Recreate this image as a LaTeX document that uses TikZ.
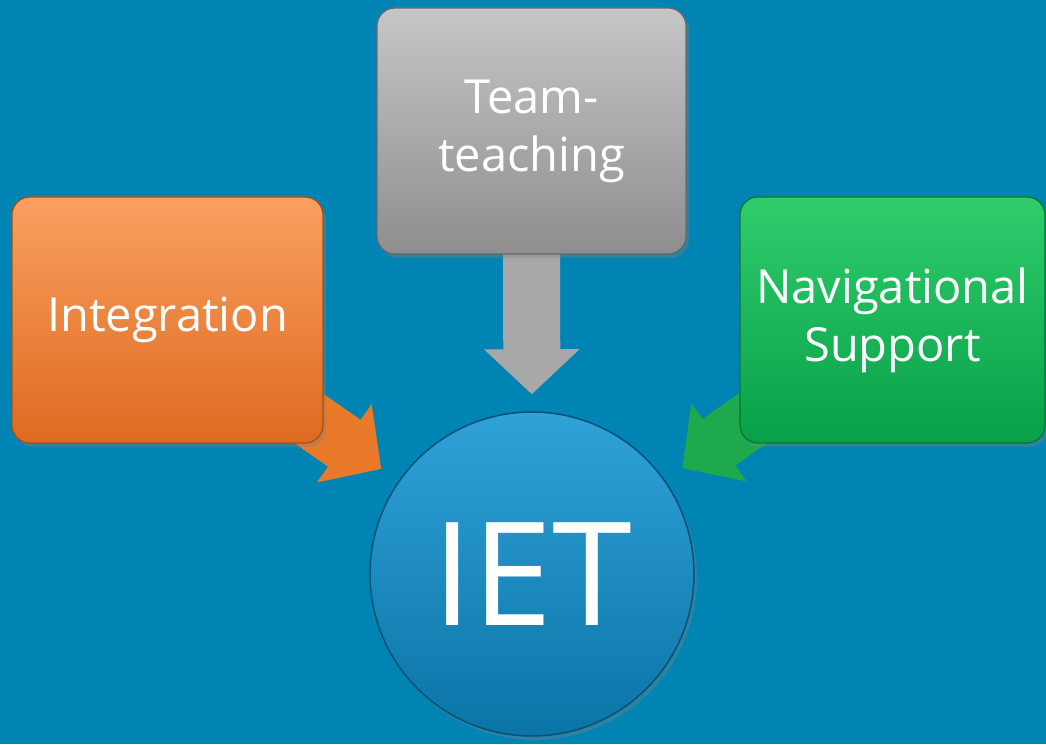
\documentclass[tikz,border=0pt]{standalone}
\usepackage{fontspec}
\setmainfont{Open Sans}
\usetikzlibrary{arrows.meta,shadows}

\definecolor{seablue}{RGB}{0,132,180}
\definecolor{orangetop}{RGB}{249,160,96}
\definecolor{orangebot}{RGB}{222,106,32}
\definecolor{orangeline}{RGB}{170,78,16}
\definecolor{orangearrow}{RGB}{232,122,42}
\definecolor{graytop}{RGB}{198,198,198}
\definecolor{graybot}{RGB}{142,142,142}
\definecolor{grayline}{RGB}{105,105,105}
\definecolor{grayarrow}{RGB}{168,168,168}
\definecolor{greentop}{RGB}{48,204,108}
\definecolor{greenbot}{RGB}{8,160,72}
\definecolor{greenline}{RGB}{8,118,52}
\definecolor{greenarrow}{RGB}{30,170,76}
\definecolor{circtop}{RGB}{48,162,216}
\definecolor{circbot}{RGB}{10,116,166}
\definecolor{circline}{RGB}{8,80,118}

\pgfdeclarelayer{bg}
\pgfdeclarelayer{links}
\pgfsetlayers{bg,links,main}

\begin{document}
\begin{tikzpicture}[x=1pt,y=1pt]
		\tikzstyle{box}=[draw,
			rounded corners=18pt,
			line width=1.2pt,
			text=white,
			align=center,
			minimum height=246pt,
			font=\fontsize{47}{58}\selectfont,
			drop shadow={opacity=0.35,shadow xshift=3pt,shadow yshift=-4pt},
			];
		\tikzstyle{bigarrow}=[line width=57pt,
			-{Triangle[length=45pt,width=93pt]},
			];

		\node [box,top color=orangetop,bottom color=orangebot,draw=orangeline]
			(integ) at (167.5,424) [minimum width=311pt] {Integration};
		\node [box,top color=graytop,bottom color=graybot,draw=grayline]
			(team) at (531.5,613) [minimum width=309pt] {Team-\\teaching};
		\node [box,top color=greentop,bottom color=greenbot,draw=greenline]
			(nav) at (892.5,424) [minimum width=305pt] {Navigational\\Support};

		\node [circle,draw=circline,line width=1.5pt,
			top color=circtop,bottom color=circbot,
			minimum size=324pt,text=white,
			font=\fontsize{144}{144}\selectfont,
			drop shadow={opacity=0.35,shadow xshift=3pt,shadow yshift=-4pt}]
			(iet) at (532,170) {IET};

		\begin{pgfonlayer}{bg}
			\fill [seablue] (0,0) rectangle (1046,744);
		\end{pgfonlayer}

		\begin{pgfonlayer}{links}
			\draw [bigarrow,orangearrow,shorten >=21pt] (integ.center) -- (iet);
			\draw [bigarrow,grayarrow,shorten >=17pt] (team.center) -- (iet);
			\draw [bigarrow,greenarrow,shorten >=21pt] (nav.center) -- (iet);
		\end{pgfonlayer}
	\end{tikzpicture}
\end{document}
